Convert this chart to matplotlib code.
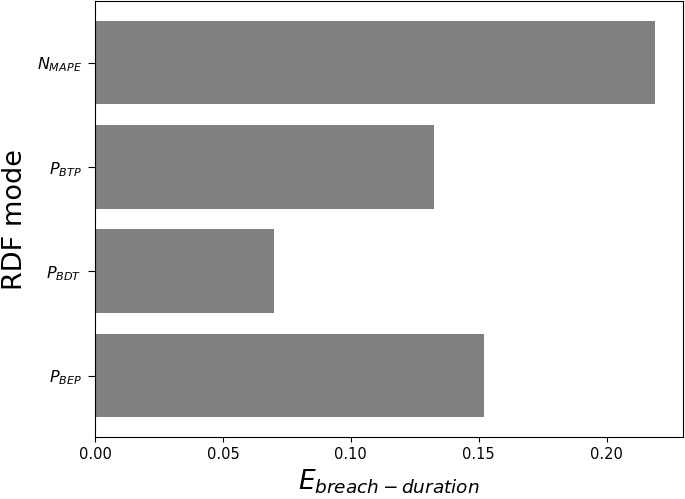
import matplotlib
matplotlib.use("Agg")
import matplotlib.pyplot as plt

modes = [r'$P_{BEP}$', r'$P_{BDT}$', r'$P_{BTP}$', r'$N_{MAPE}$']
errors = [0.1521, 0.0698, 0.1325, 0.2189]

fig, ax = plt.subplots(figsize=(6.85, 4.99), dpi=100)
fig.subplots_adjust(left=0.1387, right=0.997, top=0.998, bottom=0.124)

ax.barh(range(len(modes)), errors, color='gray')
ax.set_yticks(range(len(modes)))
ax.set_yticklabels(modes, fontsize=11.5)
ax.tick_params(axis='y', length=5, pad=4.5)
ax.tick_params(axis='x', labelsize=10.5)
ax.set_ylabel("RDF mode", fontsize=19.5, labelpad=6.5)
ax.set_xlabel(r'$E_{breach-duration}$', fontsize=19)

fig.savefig("out.png", dpi=100)
